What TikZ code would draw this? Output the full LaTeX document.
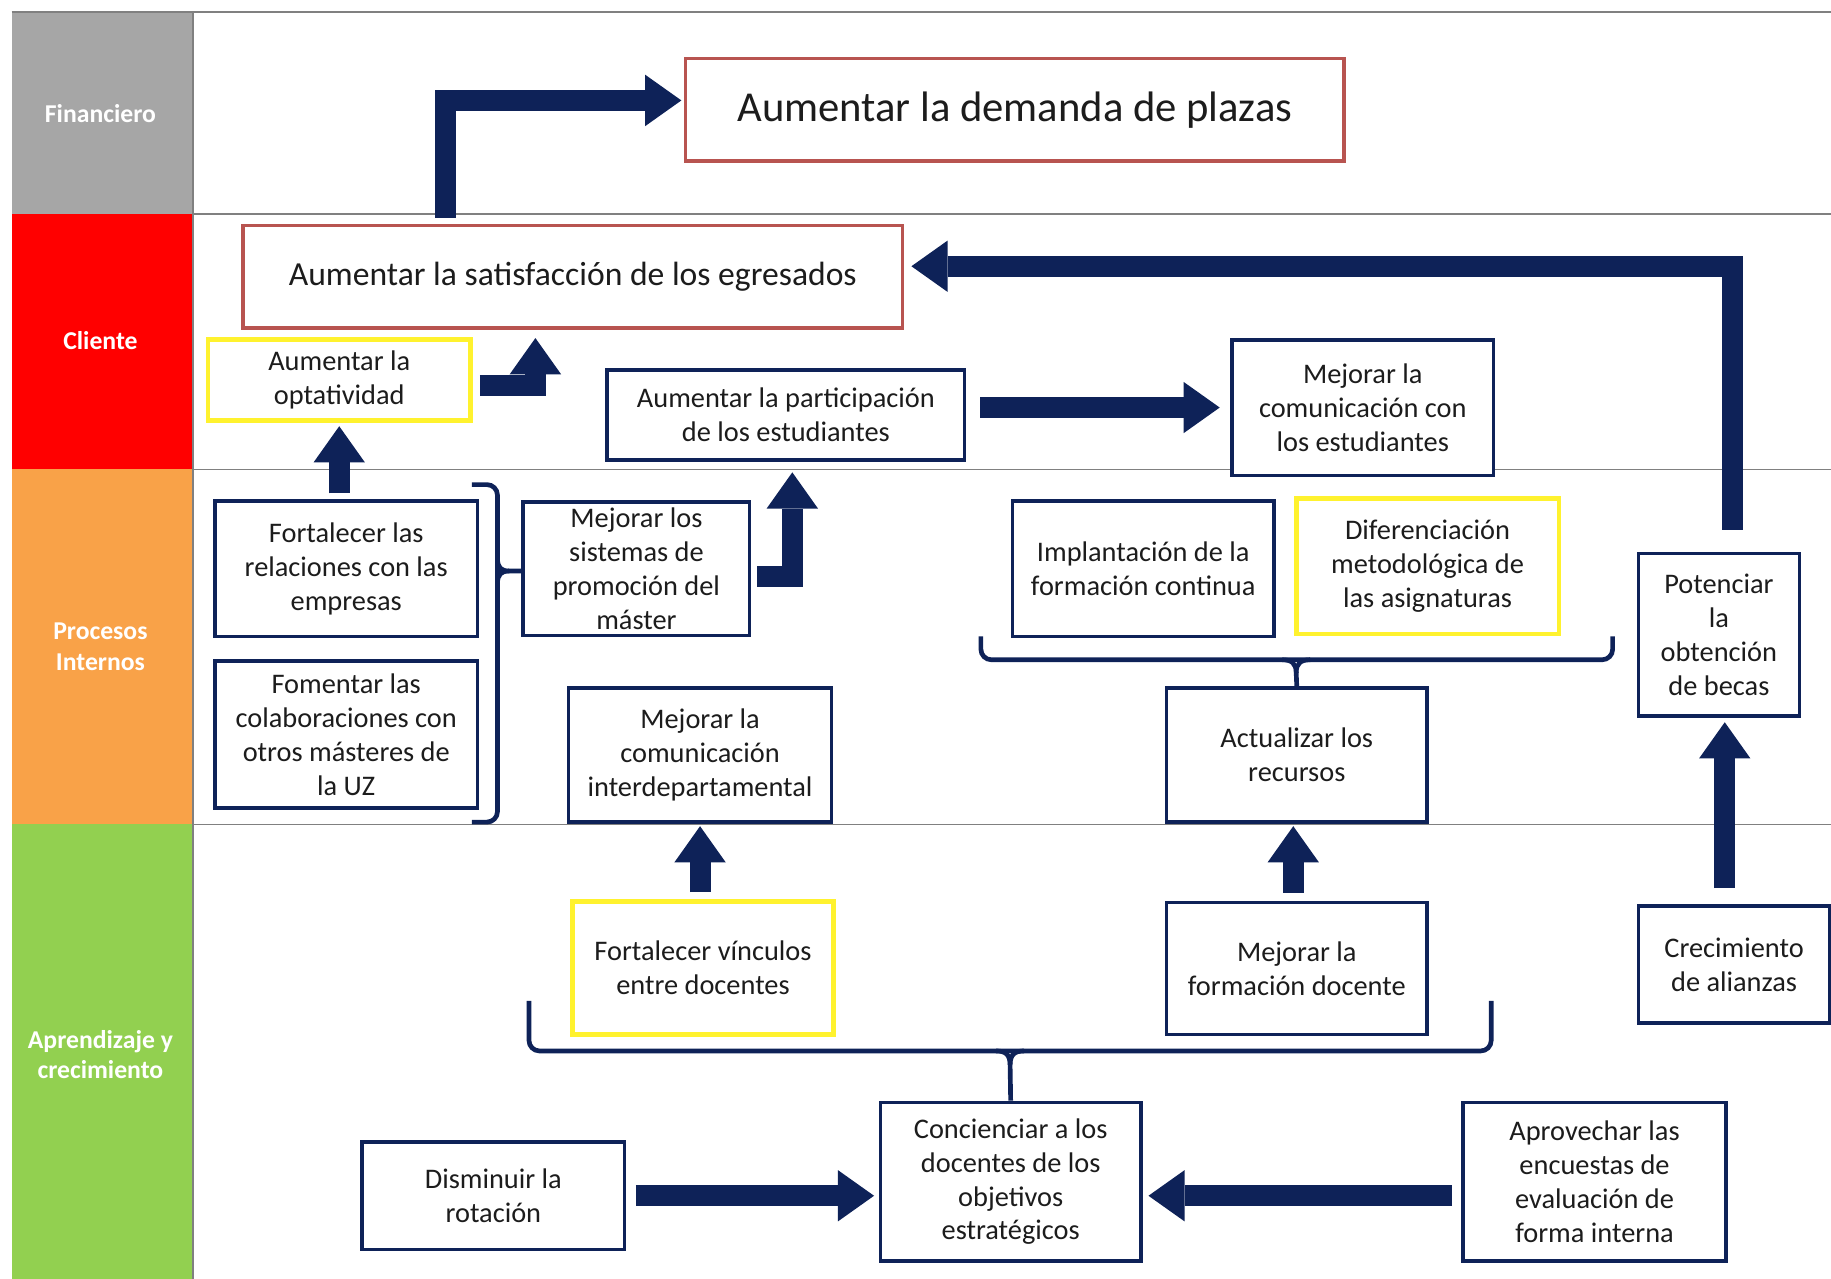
\documentclass[tikz,border=0pt]{standalone}
\usepackage{fontspec}
\setmainfont{Carlito}
\usetikzlibrary{arrows.meta,calc}
\definecolor{navy}{HTML}{0E2258}
\definecolor{rbord}{HTML}{B85450}
\definecolor{ybord}{HTML}{FFF22E}
\definecolor{cgray}{HTML}{A6A6A6}
\definecolor{cred}{HTML}{FF0000}
\definecolor{corange}{HTML}{F9A248}
\definecolor{cgreen}{HTML}{92D050}
\definecolor{gline}{HTML}{808080}
\definecolor{txt}{HTML}{1C1C1C}
\tikzset{
  lbl/.style={text=white, align=center, font=\fontsize{22}{26}\selectfont\bfseries},
  nbox/.style={draw=navy, line width=3pt, fill=white, align=center, inner sep=0pt,
    text=txt, font=\fontsize{24.3}{29}\selectfont},
  ybox/.style={nbox, draw=ybord, line width=4pt},
  rbox/.style={nbox, draw=rbord, line width=3pt},
  blk/.style={draw=navy, line width=18pt,
    -{Triangle[width=44pt,length=31pt,line width=0pt]}},
  brc/.style={draw=navy, line width=4pt},
  gridl/.style={draw=gline, line width=1.5pt}
}
\begin{document}
\begin{tikzpicture}[x=1pt,y=-1pt]
\useasboundingbox (0,0) rectangle (1568,1095);
\fill[white] (0,0) rectangle (1568,1095);
% left column
\fill[cgray] (10,10) rectangle (165,183);
\fill[cred] (10,183) rectangle (165,402);
\fill[corange] (10,402) rectangle (165,706);
\fill[cgreen] (10,706) rectangle (165,1095);
\node[lbl] (lf) at (86,97) {Financiero};
\node[lbl] (lc) at (86,292) {Cliente};
\node[lbl] (lp) at (86,554) {Procesos\\Internos};
\node[lbl] (la) at (86,903) {Aprendizaje y\\crecimiento};
% grid lines
\draw[gridl] (10,10) -- (1568,10);
\draw[gridl] (165,183) -- (1568,183);
\draw[gridl] (165,402) -- (1568,402);
\draw[gridl] (165,706) -- (1568,706);
\draw[gridl] (165,10) -- (165,1095);
% boxes
\node[rbox, minimum width=564, minimum height=88, font=\fontsize{36.5}{42}\selectfont] (dem) at (869,94) {Aumentar la demanda de plazas};
\node[rbox, minimum width=565, minimum height=88, font=\fontsize{28.8}{34}\selectfont] (sat) at (490.5,237) {Aumentar la satisfacción de los egresados};
\node[ybox, minimum width=225, minimum height=69] (opt) at (290.5,325.5) {Aumentar  la\\optatividad};
\node[nbox, minimum width=306, minimum height=77] (part) at (673,355.5) {Aumentar  la participación\\de los estudiantes};
\node[nbox, minimum width=224, minimum height=116] (com) at (1167,349) {Mejorar la\\comunicación con\\los estudiantes};
\node[nbox, minimum width=225, minimum height=116] (frel) at (296.5,487) {Fortalecer las\\relaciones con las\\empresas};
\node[nbox, minimum width=225, minimum height=126] (fom) at (296.5,629) {Fomentar  las\\colaboraciones con\\otros másteres de\\la UZ};
\node[nbox, minimum width=194, minimum height=114] (prom) at (545,487) {Mejorar los\\sistemas de\\promoción  del\\máster};
\node[nbox, minimum width=225, minimum height=115] (inter) at (599.5,646.5) {Mejorar la\\comunicación\\interdepartamental};
\node[nbox, minimum width=224, minimum height=116] (impl) at (979,487) {Implantación de la\\formación  continua};
\node[ybox, minimum width=225, minimum height=116] (dif) at (1222.5,485) {Diferenciación\\metodológica de\\las asignaturas};
\node[nbox, minimum width=223, minimum height=115] (act) at (1110.5,646.5) {Actualizar los\\recursos};
\node[nbox, minimum width=138, minimum height=139] (pot) at (1472,543.5) {Potenciar\\la\\obtención\\de becas};
\node[ybox, minimum width=224, minimum height=114] (vin) at (602,829) {Fortalecer vínculos\\entre docentes};
\node[nbox, minimum width=223, minimum height=113] (fdoc) at (1110.5,829.5) {Mejorar la\\formación  docente};
\node[nbox, minimum width=164, minimum height=100] (crec) at (1485,826) {Crecimiento\\de alianzas};
\node[nbox, minimum width=223, minimum height=136] (conc) at (865.5,1012) {Concienciar a los\\docentes de los\\objetivos\\estratégicos};
\node[nbox, minimum width=225, minimum height=92] (dis) at (422.5,1024) {Disminuir la\\rotación};
\node[nbox, minimum width=225, minimum height=136] (apr) at (1365.5,1012) {Aprovechar las\\encuestas de\\evaluación de\\forma  interna};
% braces
\draw[brc, rounded corners=9pt] (404,415) -- (426,415) -- (426,704) -- (404,704);
\draw[brc] (426,478) .. controls (426,486) and (429,489) .. (436,489) -- (prom.west |- 0,489);
\draw[brc] (426,500) .. controls (426,492) and (429,489) .. (436,489);
\draw[brc, rounded corners=9pt] (840,545) -- (840,565) -- (1381,565) -- (1381,545);
\draw[brc] (1098,565) .. controls (1106,565) and (1110,568) .. (1110,576) -- (act.north);
\draw[brc] (1122,565) .. controls (1114,565) and (1110,568) .. (1110,576);
\draw[brc, rounded corners=9pt] (453,857) -- (453,900) -- (1277,900) -- (1277,857);
\draw[brc] (853,900) .. controls (861,900) and (865,903) .. (865,912) -- (conc.north);
\draw[brc] (877,900) .. controls (869,900) and (865,903) .. (865,912);
% arrows
\draw[blk] ($(sat.north west)+(175,-5)$) |- ($(dem.west)+(-2,-8)$);
\draw[blk] ($(pot.north)+(12,-19)$) |- ($(sat.east)+(6,-9)$);
\draw[blk] ($(opt.east)+(6,5)$) -| ($(sat.south west)+(252,7)$);
\draw[blk] ($(opt.south |- frel.north)+(0,-5)$) -- ($(opt.south)+(0,3)$);
\draw[blk] ($(prom.east)+(5,7)$) -| ($(part.south west)+(160,9)$);
\draw[blk] ($(part.east |- com.west)+(12,0)$) -- ($(com.west)+(-9,0)$);
\draw[blk] ($(inter.south |- vin.north)+(0,-6)$) -- ($(inter.south)+(0,2)$);
\draw[blk] ($(act.south |- fdoc.north)+(-3,-7)$) -- ($(act.south)+(-3,2)$);
\draw[blk] ($(pot.south |- crec.north)+(5,-14)$) -- ($(pot.south)+(5,4)$);
\draw[blk] ($(dis.east)+(8,0)$) -- ($(conc.west |- dis.east)+(-4,0)$);
\draw[blk] ($(apr.west |- dis.east)+(-8,0)$) -- ($(conc.east |- dis.east)+(5,0)$);
\end{tikzpicture}
\end{document}
